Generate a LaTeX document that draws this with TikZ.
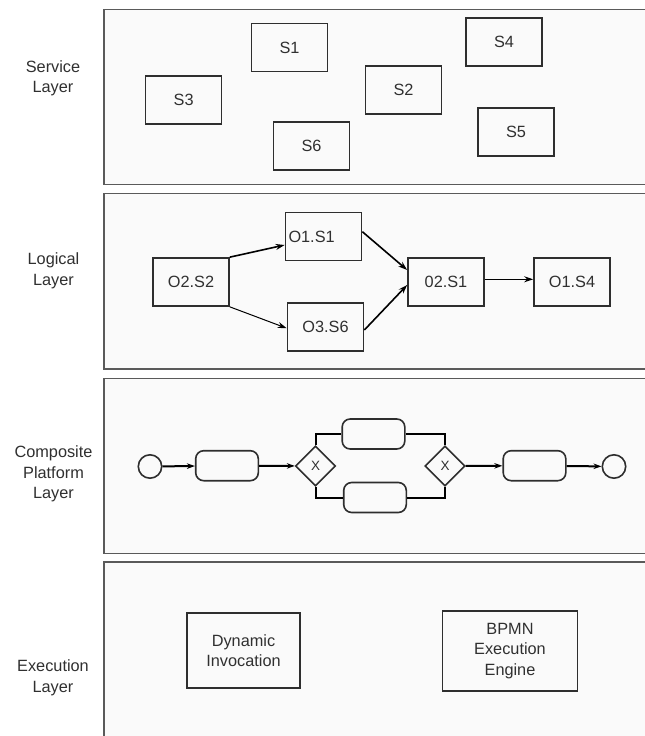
\documentclass[tikz,border=0pt]{standalone}
\usepackage{fontspec}
\setmainfont{Liberation Sans}
\usetikzlibrary{shapes.geometric,arrows.meta}
\definecolor{txtc}{HTML}{303030}
\definecolor{panelc}{HTML}{5A5A5A}
\definecolor{panelfill}{HTML}{FAFAFA}
\definecolor{boxc}{HTML}{2E2E2E}
\begin{document}
\begin{tikzpicture}[x=1pt,y=-1pt,
  font=\fontsize{16.3}{20.5}\selectfont,
  every node/.style={text=txtc},
  panel/.style={draw=panelc, line width=1.6pt, fill=panelfill},
  layerlabel/.style={align=center, inner sep=0pt},
  sbox/.style={draw=boxc, line width=1.7pt, minimum width=76pt, minimum height=48pt, inner sep=0pt},
  ebox/.style={draw=boxc, line width=1.7pt, align=center, inner sep=0pt},
  larrow/.style={draw=black, line width=1.6pt, -{Stealth[length=9pt,width=6pt]}},
  evt/.style={circle, draw=boxc, line width=1.6pt, minimum size=23.4pt, inner sep=0pt},
  task/.style={rectangle, rounded corners=8pt, draw=boxc, line width=1.6pt, minimum width=62.6pt, minimum height=30pt, inner sep=0pt},
  gw/.style={diamond, draw=boxc, line width=1.6pt, minimum width=40pt, minimum height=40pt, inner sep=0pt, font=\fontsize{13.5}{15}\selectfont},
  flow/.style={draw=black, line width=2pt, -{Stealth[length=8pt,width=5.5pt]}},
  branch/.style={draw=black, line width=2pt}
]
\useasboundingbox (0,0) rectangle (645,736);
\fill[white] (0,0) rectangle (645,736);
% panels
\draw[panel] (104,9.3) rectangle (670,184.3);
\draw[panel] (104,193.3) rectangle (670,369);
\draw[panel] (104,378.3) rectangle (670,553.3);
\draw[panel] (104,561.7) rectangle (670,760);
% layer labels
\node[layerlabel] (lservice) at (53,78.5) {Service\\Layer};
\node[layerlabel] (llogical) at (53.5,271) {Logical\\Layer};
\node[layerlabel] (lcomposite) at (53.5,474) {Composite\\Platform\\Layer};
\node[layerlabel] (lexec) at (53,678) {Execution\\Layer};
% service layer
\node[sbox] (s1) at (289.5,47.5) {S1};
\node[sbox] (s3) at (183.6,100) {S3};
\node[sbox] (s2) at (403.5,90) {S2};
\node[sbox] (s4) at (504,42) {S4};
\node[sbox] (s6) at (311.5,146) {S6};
\node[sbox] (s5) at (516,132) {S5};
% logical layer
\node[sbox] (o2s2) at (191,282) {O2.S2};
\node[sbox, text width=70pt, align=left, inner xsep=3pt] (o1s1) at (323.5,236.5) {O1.S1};
\node[sbox] (o3s6) at (325.5,326.7) {O3.S6};
\node[sbox] (o2s1) at (446,282) {02.S1};
\node[sbox] (o1s4) at (572,282) {O1.S4};
\draw[larrow] (o2s2.north east) -- ([yshift=-8.5pt]o1s1.west);
\draw[larrow, line width=1pt] (o2s2.south east) -- ([yshift=-1.5pt]o3s6.west);
\draw[larrow] ([yshift=4.8pt]o1s1.east) -- ([yshift=12pt]o2s1.west);
\draw[larrow] ([yshift=-3.3pt]o3s6.east) -- ([yshift=-3pt]o2s1.west);
\draw[larrow] ([yshift=2.7pt]o2s1.east) -- ([yshift=2.7pt]o1s4.west);
% composite platform layer
\node[evt] (start) at (150,466.5) {};
\node[task] (t1) at (227,465.7) {};
\node[gw] (g1) at (315.5,466) {X};
\node[task] (tu) at (373.5,434) {};
\node[task] (tl) at (375,497.5) {};
\node[gw] (g2) at (445,466) {X};
\node[task] (t3) at (534.5,465.7) {};
\node[evt] (end) at (614,466.5) {};
\draw[flow] (start) -- (t1);
\draw[flow] (t1) -- (g1);
\draw[flow] (g2) -- (t3);
\draw[flow] (t3) -- (end);
\draw[branch] (g1.north) |- (tu.west);
\draw[branch] (tu.east) -| (g2.north);
\draw[branch] (g1.south) |- (tl.west);
\draw[branch] (tl.east) -| (g2.south);
% execution layer
\node[ebox, minimum width=113pt, minimum height=75pt] (dyn) at (243.5,650.5) {Dynamic\\Invocation};
\node[ebox, minimum width=135pt, minimum height=80pt] (bpmn) at (510,650.7) {BPMN\\Execution\\Engine};
\end{tikzpicture}
\end{document}
